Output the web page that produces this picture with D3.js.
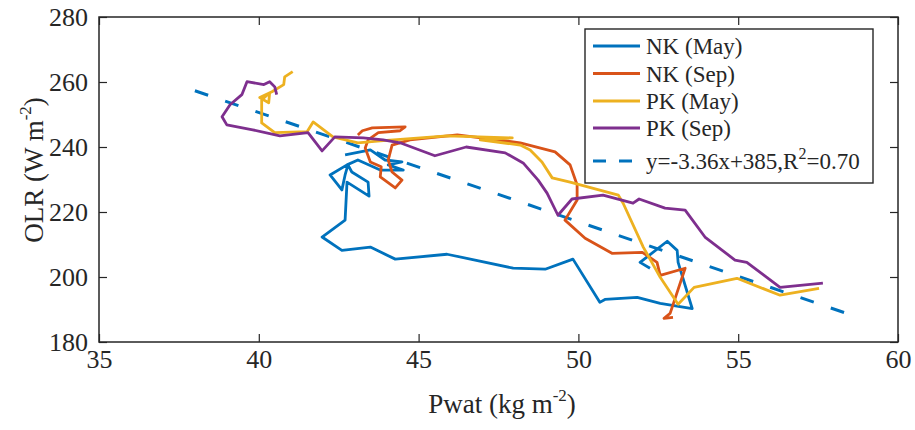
<!DOCTYPE html>
<html><head><meta charset="utf-8">
<script src="https://cdn.jsdelivr.net/npm/d3@7"></script>
<style>
body{margin:0;background:#fff}
text{font-family:"Liberation Serif","Times New Roman",serif;fill:#262626}
</style>
</head><body>
<svg id="chart" width="915" height="430"></svg>
<script>
// ---- data ----
const xTicks = [35, 40, 45, 50, 55, 60];
const yTicks = [180, 200, 220, 240, 260, 280];
const seriesNames = ["NK (May)", "NK (Sep)", "PK (May)", "PK (Sep)"];

const nkMay = [[42.70,237.6],[43.49,239.1],[43.95,236.0],[44.48,235.4],[44.05,234.5],[44.52,232.9],[43.80,232.9],[43.10,236.0],[42.76,234.5],[42.23,231.4],[42.60,226.8],[42.70,231.4],[42.79,234.5],[42.91,232.3],[43.42,229.2],[43.45,224.9],[42.76,229.2],[42.70,217.5],[41.98,212.3],[42.60,208.2],[43.49,209.2],[44.27,205.5],[45.89,207.0],[47.96,202.7],[48.96,202.4],[49.83,205.5],[50.67,192.2],[50.83,193.1],[51.84,193.7],[52.56,191.9],[53.56,190.3],[53.12,204.5],[53.09,208.2],[52.78,211.0],[51.93,204.5],[52.24,202.7]];

const nkSep = [[43.10,243.7],[43.24,245.0],[43.55,245.9],[44.58,246.2],[44.42,245.0],[43.74,244.4],[43.42,242.2],[43.33,239.7],[43.49,235.4],[43.83,233.9],[43.80,230.8],[44.27,227.4],[44.48,229.8],[44.17,232.3],[44.05,236.0],[44.17,240.6],[44.73,242.2],[46.21,243.7],[48.18,241.3],[49.27,238.5],[49.74,234.5],[49.96,228.3],[49.96,223.7],[49.58,217.5],[50.21,211.9],[51.05,207.3],[52.00,207.6],[52.46,204.5],[52.56,200.5],[53.34,202.7],[52.87,188.8],[52.68,187.3],[52.96,187.6]];

const pkMay = [[41.06,263.2],[40.81,261.6],[40.78,259.2],[40.41,257.0],[40.03,255.2],[40.31,253.6],[40.34,256.7],[40.09,254.5],[40.09,247.4],[40.50,244.4],[41.51,244.7],[41.70,247.7],[42.32,243.1],[43.10,241.3],[43.80,241.9],[45.89,243.4],[47.93,242.8],[46.93,242.2],[48.18,240.6],[48.49,239.1],[48.86,235.4],[49.18,230.5],[49.74,229.2],[51.25,225.2],[51.40,222.7],[52.03,209.2],[52.56,199.9],[53.12,191.6],[53.62,196.8],[54.96,199.6],[56.31,194.4],[57.53,196.5]];

const pkSep = [[40.56,256.1],[40.50,258.5],[40.34,260.1],[40.16,259.2],[39.63,260.1],[39.47,256.1],[39.10,253.0],[38.85,249.3],[39.00,246.8],[39.81,245.3],[40.66,243.4],[41.54,244.4],[41.98,238.8],[42.38,243.1],[43.27,242.8],[43.89,242.2],[44.42,241.3],[45.51,237.3],[46.49,240.0],[47.71,238.2],[48.27,235.1],[48.74,229.8],[49.02,225.8],[49.36,219.0],[49.80,224.0],[50.77,225.2],[51.71,222.7],[51.90,224.0],[52.71,221.2],[53.34,220.6],[53.96,212.3],[54.90,205.2],[55.27,204.5],[56.31,196.8],[57.65,198.1]];

const fitSlope = -3.36;
const fitIntercept = 385;
const fitR2 = "0.70";
const fitXRange = [38, 58.5];

// ---- drawing ----
const series = [nkMay, nkSep, pkMay, pkSep];
const colors = ["#0072BD", "#D95319", "#EDB120", "#7E2F8E"];
const axisColor = "#262626";

const svg = d3.select("#chart");
const x = d3.scaleLinear().domain([35, 60]).range([99, 898]);
const y = d3.scaleLinear().domain([180, 280]).range([342, 17]);

const line = d3.line().x(d => x(d[0])).y(d => y(d[1]));

// fit line (beneath)
const fitPts = fitXRange.map(v => [v, fitSlope * v + fitIntercept]);
svg.append("path").attr("d", line(fitPts)).attr("fill", "none")
  .attr("stroke", colors[0]).attr("stroke-width", 3).attr("stroke-dasharray", "14,18");

series.forEach((s, i) => {
  svg.append("path").attr("d", line(s)).attr("fill", "none")
    .attr("stroke", colors[i]).attr("stroke-width", 2.8)
    .attr("stroke-linejoin", "round");
});

// axes
function styleAxis(g) {
  g.select(".domain").remove();
  g.selectAll(".tick line").attr("stroke", axisColor).attr("stroke-width", 1.2);
  g.selectAll(".tick text").attr("fill", axisColor).style("font-size", "26px")
    .style("font-family", '"Liberation Serif","Times New Roman",serif');
}
svg.append("g").attr("transform", "translate(0,342)")
  .call(d3.axisBottom(x).tickValues(xTicks).tickSizeInner(-8).tickSizeOuter(0).tickPadding(8))
  .call(styleAxis);
svg.append("g").attr("transform", "translate(0,17)")
  .call(d3.axisTop(x).tickValues(xTicks).tickSizeInner(-8).tickSizeOuter(0).tickFormat(""))
  .call(styleAxis);
svg.append("g").attr("transform", "translate(99,0)")
  .call(d3.axisLeft(y).tickValues(yTicks).tickSizeInner(-8).tickSizeOuter(0).tickPadding(11))
  .call(styleAxis);
svg.append("g").attr("transform", "translate(898,0)")
  .call(d3.axisRight(y).tickValues(yTicks).tickSizeInner(-8).tickSizeOuter(0).tickFormat(""))
  .call(styleAxis);

svg.append("rect").attr("x", 99).attr("y", 17).attr("width", 799).attr("height", 325)
  .attr("fill", "none").attr("stroke", axisColor).attr("stroke-width", 1.5);

// axis labels
const xl = svg.append("text").attr("x", 502).attr("y", 413).attr("text-anchor", "middle")
  .style("font-size", "27px");
xl.append("tspan").text("Pwat (kg m");
xl.append("tspan").attr("dy", -12).style("font-size", "17px").text("-2");
xl.append("tspan").attr("dy", 12).text(")");

const yl = svg.append("text").attr("transform", "translate(43,170) rotate(-90)")
  .attr("text-anchor", "middle").style("font-size", "27px");
yl.append("tspan").text("OLR (W m");
yl.append("tspan").attr("dy", -12).style("font-size", "17px").text("-2");
yl.append("tspan").attr("dy", 12).text(")");

// legend
const lg = svg.append("g");
lg.append("rect").attr("x", 585).attr("y", 29).attr("width", 288).attr("height", 154)
  .attr("fill", "#fff").attr("stroke", axisColor).attr("stroke-width", 1.4);
const rows = [46, 73.5, 101, 128, 161];
seriesNames.forEach((n, i) => {
  lg.append("line").attr("x1", 593).attr("x2", 640).attr("y1", rows[i]).attr("y2", rows[i])
    .attr("stroke", colors[i]).attr("stroke-width", 2.8);
  lg.append("text").attr("x", 646).attr("y", rows[i]).attr("dy", "0.35em")
    .style("font-size", "23px").text(n);
});
lg.append("line").attr("x1", 593).attr("x2", 640).attr("y1", rows[4]).attr("y2", rows[4])
  .attr("stroke", colors[0]).attr("stroke-width", 3).attr("stroke-dasharray", "13,13");
const ft = lg.append("text").attr("x", 646).attr("y", rows[4]).attr("dy", "0.35em")
  .style("font-size", "23px");
ft.append("tspan").text(`y=${fitSlope}x+${fitIntercept},R`);
ft.append("tspan").attr("dy", -10).style("font-size", "16px").text("2");
ft.append("tspan").attr("dy", 10).text(`=${fitR2}`);
</script>
</body></html>
